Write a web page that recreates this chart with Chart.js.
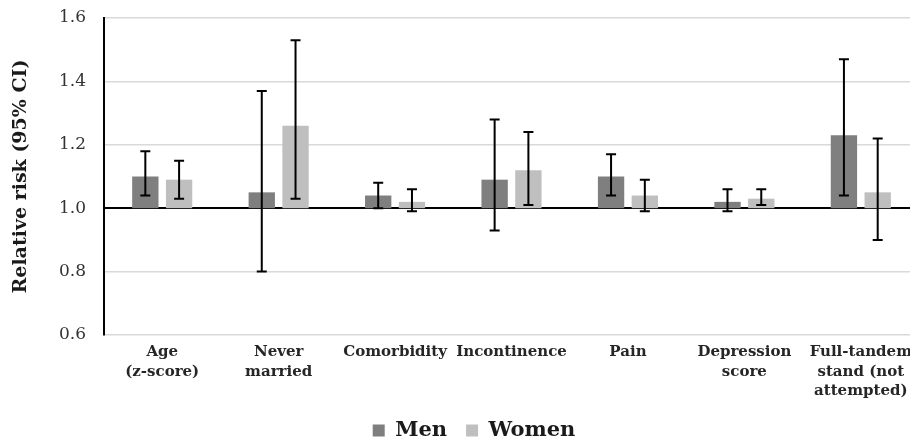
<!DOCTYPE html>
<html>
<head>
<meta charset="utf-8">
<script src="https://cdn.jsdelivr.net/npm/chart.js@4.4.1/dist/chart.umd.min.js"></script>
<style>
  html, body { margin: 0; padding: 0; background: #fff; overflow: hidden; }
  #wrap { width: 920px; height: 441px; }
</style>
</head>
<body>
<div id="wrap"><canvas id="rr"></canvas></div>
<script>
// Relative risk by factor, men vs women, bars start at 1.0
const categories = [
  ['Age', '(z-score)'],
  ['Never', 'married'],
  'Comorbidity',
  'Incontinence',
  'Pain',
  ['Depression', 'score'],
  ['Full-tandem', 'stand (not', 'attempted)']
];
const menRR = [1.10, 1.05, 1.04, 1.09, 1.10, 1.02, 1.23];
const menLow = [1.04, 0.80, 1.00, 0.93, 1.04, 0.99, 1.04];
const menHigh = [1.18, 1.37, 1.08, 1.28, 1.17, 1.06, 1.47];
const womenRR = [1.09, 1.26, 1.02, 1.12, 1.04, 1.03, 1.05];
const womenLow = [1.03, 1.03, 0.99, 1.01, 0.99, 1.01, 0.90];
const womenHigh = [1.15, 1.53, 1.06, 1.24, 1.09, 1.06, 1.22];
const yTicks = [0.6, 0.8, 1.0, 1.2, 1.4, 1.6];
const baseline = 1.0;

const serif = '"DejaVu Serif", "Liberation Serif", serif';

// error bars drawn on top of the bars
const errorBars = {
  id: 'errorBars',
  afterDatasetsDraw(chart) {
    const { ctx, scales: { y } } = chart;
    chart.data.datasets.forEach((ds, di) => {
      const meta = chart.getDatasetMeta(di);
      meta.data.forEach((bar, i) => {
        const top = y.getPixelForValue(ds.ciHigh[i]);
        const bot = y.getPixelForValue(ds.ciLow[i]);
        ctx.save();
        ctx.strokeStyle = '#000';
        ctx.lineWidth = 2;
        ctx.beginPath();
        ctx.moveTo(bar.x, top);
        ctx.lineTo(bar.x, bot);
        ctx.moveTo(bar.x - 5, top);
        ctx.lineTo(bar.x + 5, top);
        ctx.moveTo(bar.x - 5, bot);
        ctx.lineTo(bar.x + 5, bot);
        ctx.stroke();
        ctx.restore();
      });
    });
  }
};

new Chart(document.getElementById('rr'), {
  type: 'bar',
  data: {
    labels: categories,
    datasets: [
      {
        label: 'Men',
        data: menRR.map(v => [baseline, v]),
        ciLow: menLow,
        ciHigh: menHigh,
        backgroundColor: '#7f7f7f',
        categoryPercentage: 0.58,
        barPercentage: 0.78
      },
      {
        label: 'Women',
        data: womenRR.map(v => [baseline, v]),
        ciLow: womenLow,
        ciHigh: womenHigh,
        backgroundColor: '#bfbfbf',
        categoryPercentage: 0.58,
        barPercentage: 0.78
      }
    ]
  },
  options: {
    responsive: true,
    maintainAspectRatio: false,
    animation: false,
    // left padding nudges the legend to the right; y axis width compensates
    layout: { padding: { top: 0, right: 0, left: 28, bottom: -10 } },
    plugins: {
      tooltip: { enabled: false },
      legend: {
        position: 'bottom',
        labels: {
          font: { family: serif, size: 21, weight: 'bold' },
          color: '#1a1a1a',
          boxWidth: 12,
          boxHeight: 12,
          padding: 19
        }
      }
    },
    scales: {
      x: {
        grid: { display: false, drawTicks: false },
        border: { display: false },
        afterFit: axis => { axis.height = 66; },
        ticks: {
          font: { family: serif, size: 15, weight: 'bold', lineHeight: 1.28 },
          color: '#262626',
          maxRotation: 0,
          autoSkip: false,
          padding: 8
        }
      },
      y: {
        min: 0.6,
        max: 1.6,
        afterBuildTicks: axis => { axis.ticks = yTicks.map(v => ({ value: v })); },
        afterFit: axis => {
          axis.width = 76;
          axis.paddingTop = 18;
          axis.paddingBottom = 10;
        },
        grid: {
          color: c => (Math.abs(c.tick.value - baseline) < 1e-9 ? '#000' : '#d9d9d9'),
          lineWidth: c => (Math.abs(c.tick.value - baseline) < 1e-9 ? 2 : 1.5),
          drawTicks: false
        },
        border: { color: '#000', width: 2 },
        ticks: {
          font: { family: serif, size: 17 },
          color: '#333',
          padding: 18,
          callback: v => Number(v).toFixed(1)
        },
        title: {
          display: true,
          text: 'Relative risk (95% CI)',
          font: { family: serif, size: 19, weight: 'bold' },
          color: '#1a1a1a',
          padding: { top: -18, bottom: 0 }
        }
      }
    }
  },
  plugins: [errorBars]
});
</script>
</body>
</html>
